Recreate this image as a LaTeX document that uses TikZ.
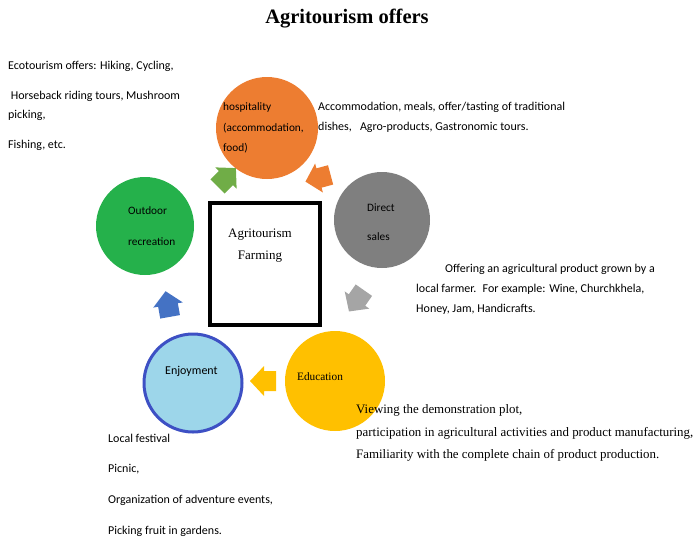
\documentclass[tikz,border=0pt]{standalone}
\usepackage{fontspec}
\setmainfont{Liberation Serif}
\newfontfamily\calib{Carlito}
\usetikzlibrary{positioning}
\definecolor{hosporange}{HTML}{ED7D31}
\definecolor{salesgray}{HTML}{7F7F7F}
\definecolor{eduyellow}{HTML}{FFC000}
\definecolor{outgreen}{HTML}{25B14B}
\definecolor{arrgreen}{HTML}{70AD47}
\definecolor{enjfill}{HTML}{9DD6EA}
\definecolor{enjblue}{HTML}{3D50C4}
\definecolor{arrblue}{HTML}{4472C4}
\definecolor{arrgray}{HTML}{A5A5A5}
\newcommand{\sfs}{\calib\fontsize{12}{20}\selectfont}
\newcommand{\cls}{\calib\fontsize{11.3}{20.5}\selectfont}
\newcommand{\rms}{\fontsize{12.9}{22.5}\selectfont}

\begin{document}
\begin{tikzpicture}
[x=1pt, y=-1pt,
 circ/.style={circle, inner sep=0pt, minimum size=#1},
 blkarr/.pic={\fill (-12,-10) -- (0,-10) -- (0,-15) -- (14,0) -- (0,15) -- (0,10)
   -- (-12,10) -- cycle;},
 desc/.style={anchor=west, align=left, inner sep=0pt, font=\sfs},
 lbl/.style={anchor=west, align=left, inner sep=0pt, font=\cls}]
\useasboundingbox (0,0) rectangle (695,539);
\node[font=\bfseries\fontsize{20.5}{24}\selectfont] (title) at (347,19) {Agritourism offers};
% the five circles
\node[circ=102pt, fill=hosporange] (hosp) at (267,128) {};
\node[circ=96pt, fill=salesgray] (sales) at (382,220) {};
\node[circ=100pt, fill=eduyellow] (edu) at (335,381) {};
\node[circ=98pt, fill=enjfill, draw=enjblue, line width=3pt] (enj) at (193,383) {};
\node[circ=98pt, fill=outgreen] (outd) at (145,226) {};
% middle box
\node[draw, line width=3.5pt, minimum width=110pt, minimum height=122pt] (box) at (265,264) {};
\node[align=center, font=\fontsize{13}{22}\selectfont] (boxt) at (260,246) {Agritourism\\Farming};
% texts in the circles
\node[lbl] (hospt) at (223,128) {hospitality\\(accommodation,\\food)};
\node[lbl] (salest) at (367,222) {Direct\\[9pt]sales};
\node[font=\fontsize{11.3}{14}\selectfont] (edut) at (320,377) {Education};
\node[lbl, font=\sfs] (enjt) at (165,371) {Enjoyment};
\node[lbl] (outdt) at (128,226) {Outdoor\\[11pt]recreation};
% block arrows
\pic[fill=arrgreen, rotate=45] (a1) at (226,178) {blkarr};
\pic[fill=hosporange, rotate=195] (a2) at (319,178) {blkarr};
\pic[fill=arrgray, rotate=235] (a3) at (357,300) {blkarr};
\pic[fill=eduyellow, rotate=180] (a4) at (264,381) {blkarr};
\pic[fill=arrblue, rotate=100] (a5) at (168,305) {blkarr};
% descriptions
\node[desc, font=\calib\fontsize{12}{19}\selectfont] (eco) at (8,106) {Ecotourism offers: Hiking, Cycling,\\[11pt]
 \ Horseback riding tours, Mushroom\\picking,\\[11pt]Fishing, etc.};
\node[desc] (hospd) at (318,117) {Accommodation, meals, offer/tasting of traditional\\
dishes, \ \ Agro-products, Gastronomic tours.};
\node[desc] (salesd) at (416,289) {\hspace*{29pt}Offering an agricultural product grown by a\\
local farmer. \ For example: Wine, Churchkhela,\\Honey, Jam, Handicrafts.};
\node[desc, font=\rms] (edud) at (356,433) {Viewing the demonstration plot,\\
participation in agricultural activities and product manufacturing,\\
Familiarity with the complete chain of product production.};
\node[desc, font=\calib\fontsize{12}{30.7}\selectfont] (enjd) at (108,485) {Local festival\\Picnic,\\
Organization of adventure events,\\Picking fruit in gardens.};
\end{tikzpicture}
\end{document}
